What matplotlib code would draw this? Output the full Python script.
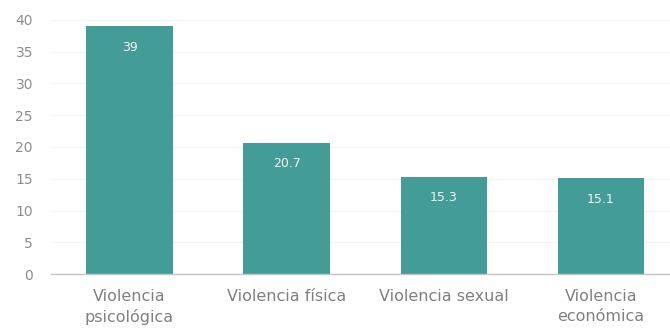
import matplotlib
matplotlib.use("Agg")
import matplotlib.pyplot as plt

categories = ["Violencia\npsicológica", "Violencia física", "Violencia sexual", "Violencia\neconómica"]
values = [39, 20.7, 15.3, 15.1]
value_labels = ["39", "20.7", "15.3", "15.1"]
yticks = [0, 5, 10, 15, 20, 25, 30, 35, 40]

plt.rcParams['font.family'] = ['DejaVu Sans']

fig = plt.figure(figsize=(6.7, 3.29), dpi=100)
ax = fig.add_axes([51/670, 1 - 274/329, 1 - 51/670, (274 - 20)/329])

bar_color = "#449c98"
x = range(len(values))
bars = ax.bar(x, values, width=0.55, color=bar_color, zorder=3)

for rect, lab in zip(bars, value_labels):
    ax.annotate(lab, (rect.get_x() + rect.get_width() / 2, rect.get_height()),
                xytext=(0, -21), textcoords="offset pixels",
                ha="center", va="center", color="#f4f4f4", fontsize=9, zorder=4)

ax.set_xlim(-0.5, 3.44)
ax.set_ylim(0, 40)
ax.set_yticks(yticks)
ax.set_yticklabels([str(t) for t in yticks], color="#8c8c8c", fontsize=10)
ax.set_xticks(list(x))
ax.set_xticklabels(categories, color="#808080", fontsize=11.5, linespacing=1.4)
ax.tick_params(axis="both", length=0)
ax.tick_params(axis="y", pad=13)
ax.tick_params(axis="x", pad=11)

ax.yaxis.grid(True, color="#f3f3f3", linewidth=0.8, zorder=0)
for side in ["top", "right", "left"]:
    ax.spines[side].set_visible(False)
ax.spines["bottom"].set_color("#c4c4c4")
ax.spines["bottom"].set_linewidth(1.0)
ax.spines["bottom"].set_zorder(5)

fig.savefig("out.png", dpi=100)
